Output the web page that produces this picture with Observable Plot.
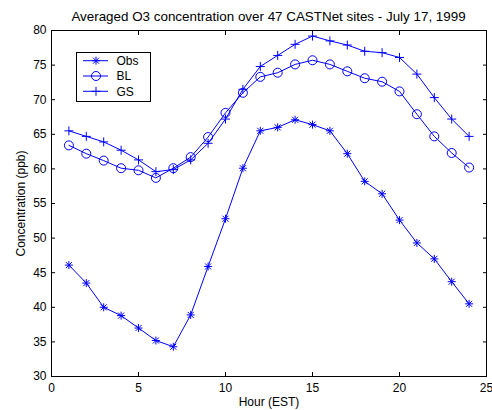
<!DOCTYPE html>
<html><head><meta charset="utf-8">
<script src="https://cdn.jsdelivr.net/npm/d3@7"></script>
<script src="https://cdn.jsdelivr.net/npm/@observablehq/plot@0.6"></script>
<style>
body{margin:0;background:#fff;font-family:"Liberation Sans",Arial,sans-serif;}
#wrap{position:relative;width:492px;height:410px;overflow:hidden;}
#title{height:16px;width:492px;position:relative;z-index:2;}
#title span{position:absolute;left:51px;width:435px;top:10px;text-align:center;font-size:13.4px;line-height:14px;white-space:nowrap;}
#legend{position:absolute;left:76px;top:52px;z-index:3;}
</style></head>
<body><div id="wrap"><div id="title"><span>Averaged O3 concentration over 47 CASTNet sites - July 17, 1999</span></div><div id="chart"></div><div id="legend"></div></div>
<script>
const hours = [1,2,3,4,5,6,7,8,9,10,11,12,13,14,15,16,17,18,19,20,21,22,23,24];
const obs = [46.1,43.5,40.0,38.8,37.0,35.2,34.3,38.9,45.9,52.8,60.1,65.5,66.0,67.1,66.4,65.5,62.2,58.2,56.4,52.6,49.3,47.0,43.7,40.5];
const bl  = [63.4,62.2,61.2,60.1,59.8,58.7,60.1,61.7,64.6,68.1,71.0,73.3,73.9,75.1,75.7,75.1,74.1,73.1,72.6,71.2,67.9,64.7,62.3,60.2];
const gs  = [65.5,64.7,63.9,62.7,61.3,59.6,59.9,61.3,63.7,67.2,71.5,74.8,76.4,78.0,79.2,78.5,77.9,77.0,76.8,76.1,73.7,70.3,67.2,64.7];
const seriesNames = ["Obs","BL","GS"];
const xTicks = [0,5,10,15,20,25];
const yTicks = [30,35,40,45,50,55,60,65,70,75,80];

const blue = "#0000ff";
const plusSym = {draw(c){const r=4.5;c.moveTo(-r,0);c.lineTo(r,0);c.moveTo(0,-r);c.lineTo(0,r);}};
const starSym = {draw(c){const r=4,d=3;c.moveTo(-r,0);c.lineTo(r,0);c.moveTo(0,-r);c.lineTo(0,r);c.moveTo(-d,-d);c.lineTo(d,d);c.moveTo(-d,d);c.lineTo(d,-d);}};
const circSym = {draw(c){const r=4.5;c.moveTo(r,0);c.arc(0,0,r,0,2*Math.PI);}};
const symbols = [starSym, circSym, plusSym];

const table = [];
[obs,bl,gs].forEach((vals,si)=>hours.forEach((h,i)=>table.push({series:seriesNames[si],hour:h,value:vals[i]})));

const marks = [Plot.frame({stroke:"black"})];
seriesNames.forEach((name,si)=>{
  const d = table.filter(r=>r.series===name);
  marks.push(Plot.line(d,{x:"hour",y:"value",stroke:blue,strokeWidth:1}));
  marks.push(Plot.dot(d,{x:"hour",y:"value",stroke:blue,strokeWidth:1,fill:"none",symbol:()=>symbols[si]}));
});

const chart = Plot.plot({
  width:492, height:394,
  marginLeft:51, marginRight:6, marginTop:14, marginBottom:34,
  style:{fontFamily:"Liberation Sans, Arial, sans-serif", fontSize:"12px", color:"black", background:"transparent", overflow:"visible"},
  x:{domain:[0,25]},
  y:{domain:[30,80]},
  symbol:{type:"identity"},
  marks:[
    Plot.axisX(xTicks,{anchor:"bottom",tickSize:0,tickPadding:7,label:"Hour (EST)",labelAnchor:"center",labelOffset:29.5,labelArrow:"none",fontSize:12}),
    Plot.axisX(xTicks,{anchor:"bottom",tickSize:-4,tickFormat:()=>"",label:null}),
    Plot.axisX(xTicks,{anchor:"top",tickSize:-4,tickFormat:()=>"",label:null}),
    Plot.axisY(yTicks,{anchor:"left",tickSize:0,tickPadding:5,label:"Concentration (ppb)",labelAnchor:"center",labelOffset:35,labelArrow:"none",fontSize:12}),
    Plot.axisY(yTicks,{anchor:"left",tickSize:-4,tickFormat:()=>"",label:null}),
    Plot.axisY(yTicks,{anchor:"right",tickSize:-4,tickFormat:()=>"",label:null}),
    ...marks
  ]
});
document.getElementById("chart").appendChild(chart);

// legend
const lg = d3.select("#legend").append("svg").attr("width",76).attr("height",51)
  .style("font-family","Liberation Sans, Arial, sans-serif").style("font-size","12px");
lg.append("rect").attr("x",0.5).attr("y",0.5).attr("width",74).attr("height",49).attr("fill","white").attr("stroke","black");
seriesNames.forEach((name,i)=>{
  const y = 8.7 + i*15.3;
  const g = lg.append("g").attr("transform",`translate(0,${y})`);
  g.append("line").attr("x1",7).attr("x2",32).attr("y1",0).attr("y2",0).attr("stroke",blue);
  const p = d3.path(); symbols[i].draw(p);
  g.append("path").attr("d",p.toString()).attr("transform","translate(20,0)").attr("stroke",blue).attr("fill","none");
  g.append("text").attr("x",40.5).attr("y",0).attr("dy","0.35em").text(name);
});
</script></body></html>
